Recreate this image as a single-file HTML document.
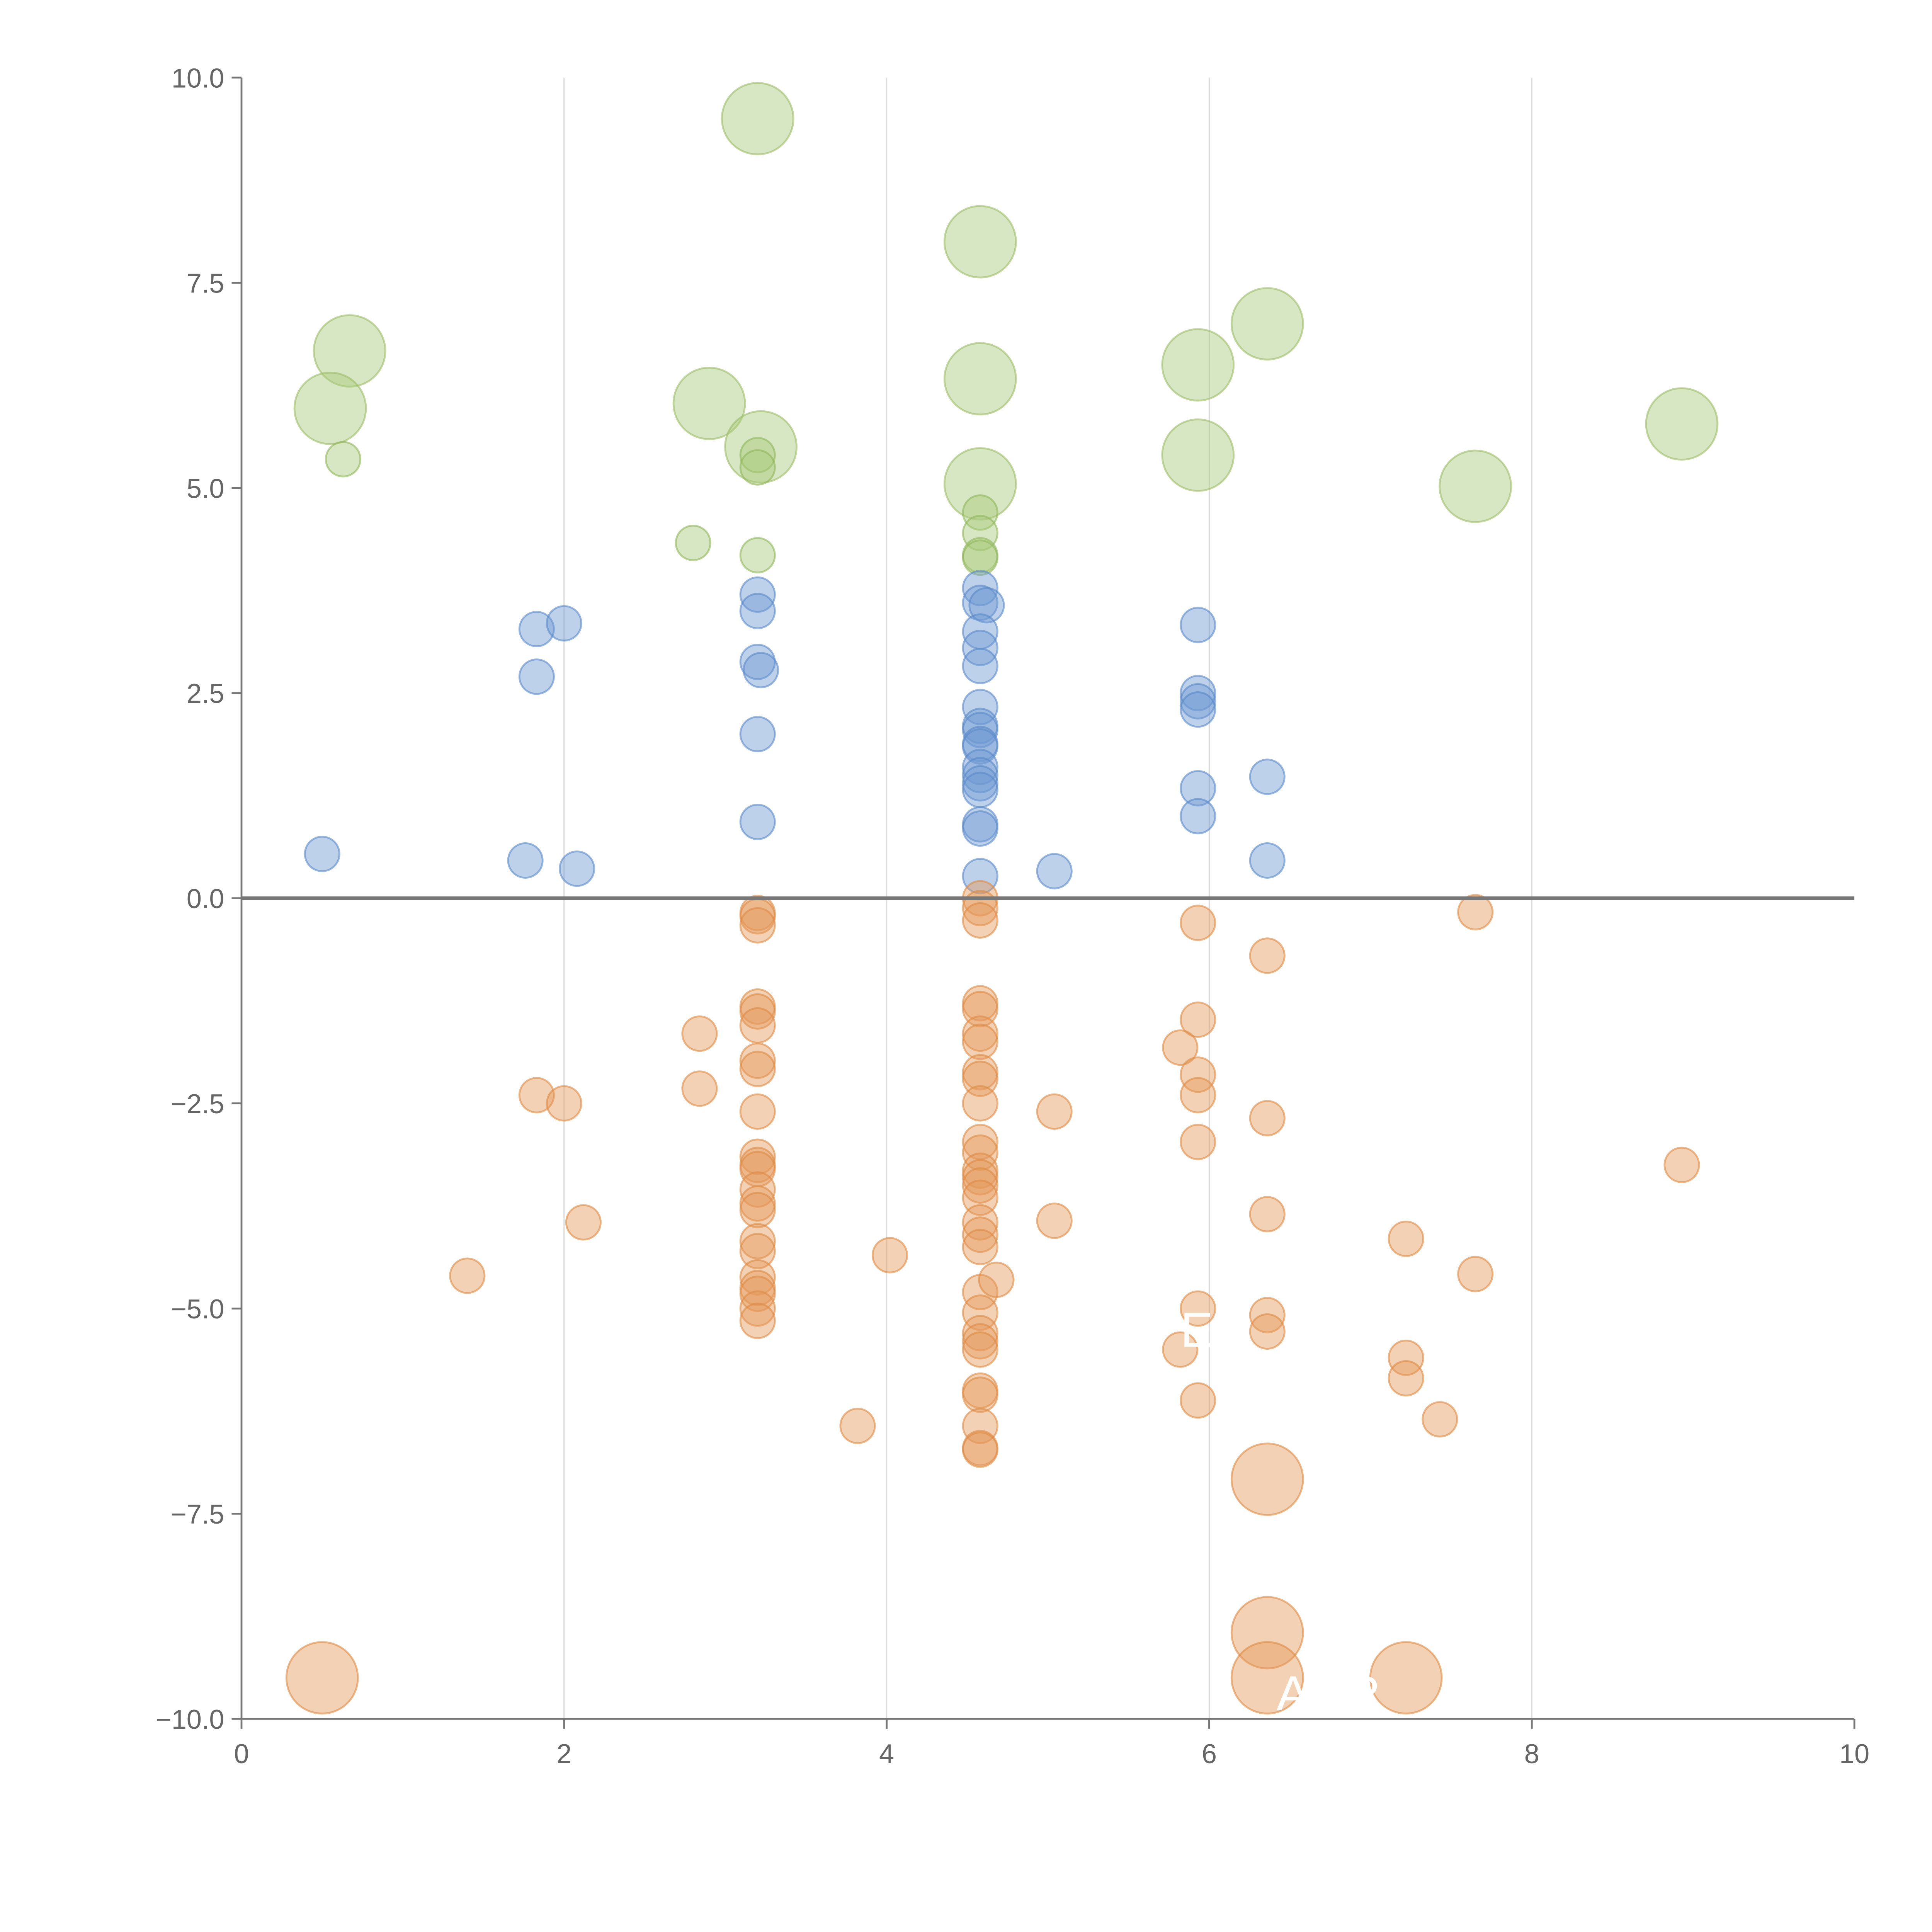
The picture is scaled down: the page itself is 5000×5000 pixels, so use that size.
<!DOCTYPE html>
<html><head><meta charset="utf-8"><style>
html,body{margin:0;padding:0;background:#fff;}
svg{display:block;font-family:"Liberation Sans",sans-serif;}
</style></head><body>
<svg id="chart" width="5000" height="5000" viewBox="0 0 1568 1568" xmlns="http://www.w3.org/2000/svg"></svg>
<script>
const xTicks=[0,2,4,6,8,10];
const xTickLabels=["0","2","4","6","8","10"];
const yTicks=[10,7.5,5,2.5,0,-2.5,-5,-7.5,-10];
const yTickLabels=["10.0","7.5","5.0","2.5","0.0","\u22122.5","\u22125.0","\u22127.5","\u221210.0"];
const greenBigX=[0.67,0.55,2.9,3.2,3.22,4.58,4.58,4.58,5.93,6.36,5.93,7.65,8.93];
const greenBigY=[6.67,5.97,6.03,9.5,5.5,8.0,6.33,5.05,6.5,7.0,5.4,5.02,5.78];
const greenX=[0.63,2.8,3.2,3.2,3.2,4.58,4.58,4.58,4.58];
const greenY=[5.35,4.33,4.18,5.4,5.25,4.7,4.45,4.18,4.15];
const blueX=[0.5,1.83,2.0,1.83,1.76,2.08,3.2,3.2,3.2,3.22,3.2,3.2,4.58,4.58,4.62,4.58,4.58,4.58,4.58,4.58,4.58,4.58,4.58,4.58,4.58,4.58,4.58,4.58,4.58,4.58,5.04,5.93,5.93,5.93,5.93,5.93,5.93,6.36,6.36];
const blueY=[0.54,3.28,3.35,2.7,0.46,0.36,3.7,3.5,2.88,2.78,2.0,0.93,3.78,3.6,3.57,3.25,3.05,2.83,2.33,2.1,2.05,1.88,1.85,1.6,1.5,1.4,1.32,0.9,0.85,0.27,0.33,3.33,2.5,2.4,2.3,1.34,1.0,1.48,0.46];
const orangeX=[3.2,3.2,3.2,3.2,3.2,3.2,3.2,3.2,3.2,3.2,3.2,3.2,3.2,3.2,3.2,3.2,3.2,3.2,3.2,3.2,3.2,3.2,2.84,2.84,1.83,2.0,2.12,1.4,4.02,3.82,4.58,4.58,4.58,4.58,4.58,4.58,4.58,4.58,4.58,4.58,4.58,4.58,4.58,4.58,4.58,4.58,4.58,4.58,4.58,4.58,4.58,4.58,4.58,4.58,4.58,4.58,4.58,4.58,4.58,4.68,5.04,5.04,5.93,5.93,5.82,5.93,5.93,5.93,5.93,5.82,5.93,6.36,6.36,6.36,6.36,6.36,7.65,7.65,7.22,7.22,7.22,7.43,8.93];
const orangeY=[-0.18,-0.22,-0.33,-1.32,-1.38,-1.55,-1.98,-2.08,-2.6,-3.15,-3.25,-3.3,-3.55,-3.72,-3.8,-4.18,-4.3,-4.62,-4.75,-4.82,-5.0,-5.15,-1.65,-2.32,-2.4,-2.5,-3.95,-4.6,-4.35,-6.43,0.0,-0.12,-0.27,-1.28,-1.35,-1.65,-1.75,-2.12,-2.2,-2.5,-2.97,-3.1,-3.32,-3.4,-3.5,-3.65,-3.95,-4.1,-4.25,-4.8,-5.05,-5.3,-5.4,-5.5,-6.0,-6.05,-6.43,-6.7,-6.72,-4.65,-2.6,-3.93,-0.3,-1.48,-1.82,-2.15,-2.4,-2.97,-5.0,-5.5,-6.12,-0.7,-2.68,-3.85,-5.08,-5.28,-0.17,-4.58,-4.15,-5.6,-5.85,-6.35,-3.25];
const orangeBigX=[0.5,6.36,6.36,6.36,7.22];
const orangeBigY=[-9.5,-7.08,-8.95,-9.5,-9.5];

const NS="http://www.w3.org/2000/svg";
const svg=document.getElementById('chart');
const X0=196,X1=1505,Y0=1395,Y1=63;
function sx(v){return X0+(v-0)/(10-0)*(X1-X0);}
function sy(v){return Y0-(v+10)/20*(Y0-Y1);}
function mk(tag,attrs){const e=document.createElementNS(NS,tag);for(const k in attrs)e.setAttribute(k,attrs[k]);svg.appendChild(e);return e;}

// gridlines
xTicks.forEach((t,i)=>{
  if(t>0&&t<10){const g=mk('line',{x1:sx(t),x2:sx(t),y1:Y1,y2:Y0,stroke:'#dddddd','stroke-width':1});
  
  }
});
// axes
let ax=mk('line',{x1:X0,x2:X0,y1:Y1,y2:Y0,stroke:'#777','stroke-width':1.5});


let bx=mk('line',{x1:X0,x2:X1,y1:Y0,y2:Y0,stroke:'#777','stroke-width':1.5});


xTicks.forEach((t,i)=>{
  const tk=mk('line',{x1:sx(t),x2:sx(t),y1:Y0,y2:Y0+8,stroke:'#777','stroke-width':1.5});
  
  
  const tx=mk('text',{x:sx(t),y:Y0+36,'text-anchor':'middle','font-size':22,fill:'#666'});
  tx.textContent=xTickLabels[i];
  
  
});
yTicks.forEach((t,i)=>{
  const tk=mk('line',{x1:X0-8,x2:X0,y1:sy(t),y2:sy(t),stroke:'#777','stroke-width':1.5});
  
  
  const tx=mk('text',{x:X0-14,y:sy(t)+8,'text-anchor':'end','font-size':22,fill:'#666'});
  tx.textContent=yTickLabels[i];
  
  
});
function series(xs,ys,r,fill,stroke,name){
  xs.forEach((x,i)=>{
    const c=mk('circle',{cx:sx(x),cy:sy(ys[i]),r:r,fill:fill,'fill-opacity':0.45,stroke:stroke,'stroke-opacity':0.6,'stroke-width':1.5});
    
    
  });
}
series(greenBigX,greenBigY,29,'#a9c97a','#9cbd68','green-bubble-large');
series(greenX,greenY,14,'#a9c97a','#8fb55a','green-bubble');
series(blueX,blueY,14,'#6f98d2','#5a88c8','blue-bubble');
series(orangeX,orangeY,14,'#e49a5c','#de8a45','orange-bubble');
series(orangeBigX,orangeBigY,29,'#e49a5c','#de8a45','orange-bubble-large');
// zero line
let z=mk('line',{x1:X0,x2:X1,y1:sy(0),y2:sy(0),stroke:'#777','stroke-width':3});


// white labels
let l1=mk('text',{x:958,y:1093,'font-size':40,fill:'#fff'});l1.textContent='E J';


let l2=mk('text',{x:1036,y:1388,'font-size':40,fill:'#fff'});l2.textContent='ADR';


</script>
</body></html>
